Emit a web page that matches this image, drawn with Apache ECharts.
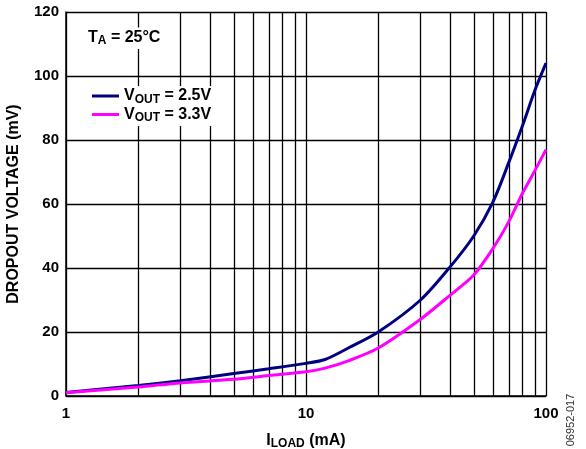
<!DOCTYPE html>
<html>
<head>
<meta charset="utf-8">
<script src="https://cdn.jsdelivr.net/npm/echarts@6/dist/echarts.min.js"></script>
<style>
  html, body { margin: 0; padding: 0; background: #fff; }
  #chart { width: 586px; height: 449px; }
</style>
</head>
<body>
<div id="chart"></div>
<script>
// load current (mA)
const iLoad = [1, 2, 3, 5, 7, 10, 12, 15, 20, 30, 40, 50, 60, 70, 80, 90, 100]
// dropout voltage (mV)
const vout25 = [1.1, 3.3, 4.8, 7, 8.5, 10.2, 11.4, 15, 20, 30, 40.5, 50, 60.5, 73, 84.7, 95.6, 104]
const vout33 = [1.0, 2.8, 4.1, 5.2, 6.4, 7.6, 8.7, 11, 15, 24, 31.6, 37.8, 46, 54.5, 63.5, 70.5, 77]
// log grid lines between decades
const minorX = [2, 3, 4, 5, 6, 7, 8, 9, 20, 30, 40, 50, 60, 70, 80, 90]
const yTicks = { min: 0, max: 120, interval: 20 }

const font = 'Liberation Sans, Arial, sans-serif'
const gridLine = { color: '#000', width: 1.3 }

// main text + subscript styles for rich labels
const richSub = {
  m: { fontFamily: font, fontSize: 16, fontWeight: 'bold', color: '#000', lineHeight: 19 },
  s: { fontFamily: font, fontSize: 12, fontWeight: 'bold', color: '#000', lineHeight: 12, verticalAlign: 'bottom' }
}

const chart = echarts.init(document.getElementById('chart'))

function pairs(ys) {
  return iLoad.map((x, i) => [x, ys[i]])
}

chart.setOption({
  animation: false,
  textStyle: { fontFamily: font },
  grid: { left: 66, top: 12, right: 40, bottom: 53, outerBoundsMode: 'none', containLabel: false },
  title: {
    text: '{m|T}{s|A}{m| = 25°C}',
    left: 85,
    top: 26,
    padding: [2, 3, 2, 3],
    backgroundColor: '#fff',
    textStyle: { rich: richSub }
  },
  legend: {
    data: ['V_OUT = 2.5V', 'V_OUT = 3.3V'],
    orient: 'vertical',
    left: 88,
    top: 86,
    icon: 'rect',
    itemWidth: 27,
    itemHeight: 3,
    itemGap: 1,
    padding: [2, 4, 2, 4],
    backgroundColor: '#fff',
    formatter: name => '{m|V}{s|OUT}{m|' + name.slice(5) + '}',
    textStyle: { rich: richSub }
  },
  xAxis: {
    type: 'log',
    logBase: 10,
    min: 1,
    max: 100,
    axisLine: { lineStyle: { color: '#000', width: 1.5 } },
    axisTick: { show: false },
    splitLine: { show: true, lineStyle: gridLine },
    axisLabel: { color: '#000', fontSize: 15, fontWeight: 'bold', margin: 10 },
    name: '{m|I}{s|LOAD}{m| (mA)}',
    nameLocation: 'middle',
    nameGap: 35,
    nameTextStyle: { rich: richSub }
  },
  yAxis: {
    type: 'value',
    min: yTicks.min,
    max: yTicks.max,
    interval: yTicks.interval,
    axisLine: { show: true, lineStyle: { color: '#000', width: 1.5 } },
    axisTick: { show: false },
    splitLine: { show: true, lineStyle: gridLine },
    axisLabel: { color: '#000', fontSize: 15, fontWeight: 'bold', margin: 7 },
    name: 'DROPOUT VOLTAGE (mV)',
    nameLocation: 'middle',
    nameGap: 44,
    nameTextStyle: { color: '#000', fontSize: 16, fontWeight: 'bold', fontFamily: font }
  },
  graphic: [{
    type: 'text',
    x: 571,
    y: 420,
    rotation: Math.PI / 2,
    style: {
      text: '06952-017',
      fontFamily: font,
      fontSize: 11,
      fill: '#333',
      align: 'center',
      verticalAlign: 'middle'
    }
  }],
  series: [
    {
      name: 'grid',
      type: 'line',
      data: [],
      z: 1,
      markLine: {
        z: 1,
        silent: true,
        symbol: 'none',
        label: { show: false },
        lineStyle: { color: '#000', width: 1.3, type: 'solid' },
        data: minorX.map(v => ({ xAxis: v }))
      }
    },
    {
      name: 'V_OUT = 2.5V',
      type: 'line',
      data: pairs(vout25),
      smooth: 0.3,
      showSymbol: false,
      z: 3,
      lineStyle: { color: '#000080', width: 3 },
      itemStyle: { color: '#000080' }
    },
    {
      name: 'V_OUT = 3.3V',
      type: 'line',
      data: pairs(vout33),
      smooth: 0.3,
      showSymbol: false,
      z: 3,
      lineStyle: { color: '#ff00ff', width: 3 },
      itemStyle: { color: '#ff00ff' }
    }
  ]
})
</script>
</body>
</html>
